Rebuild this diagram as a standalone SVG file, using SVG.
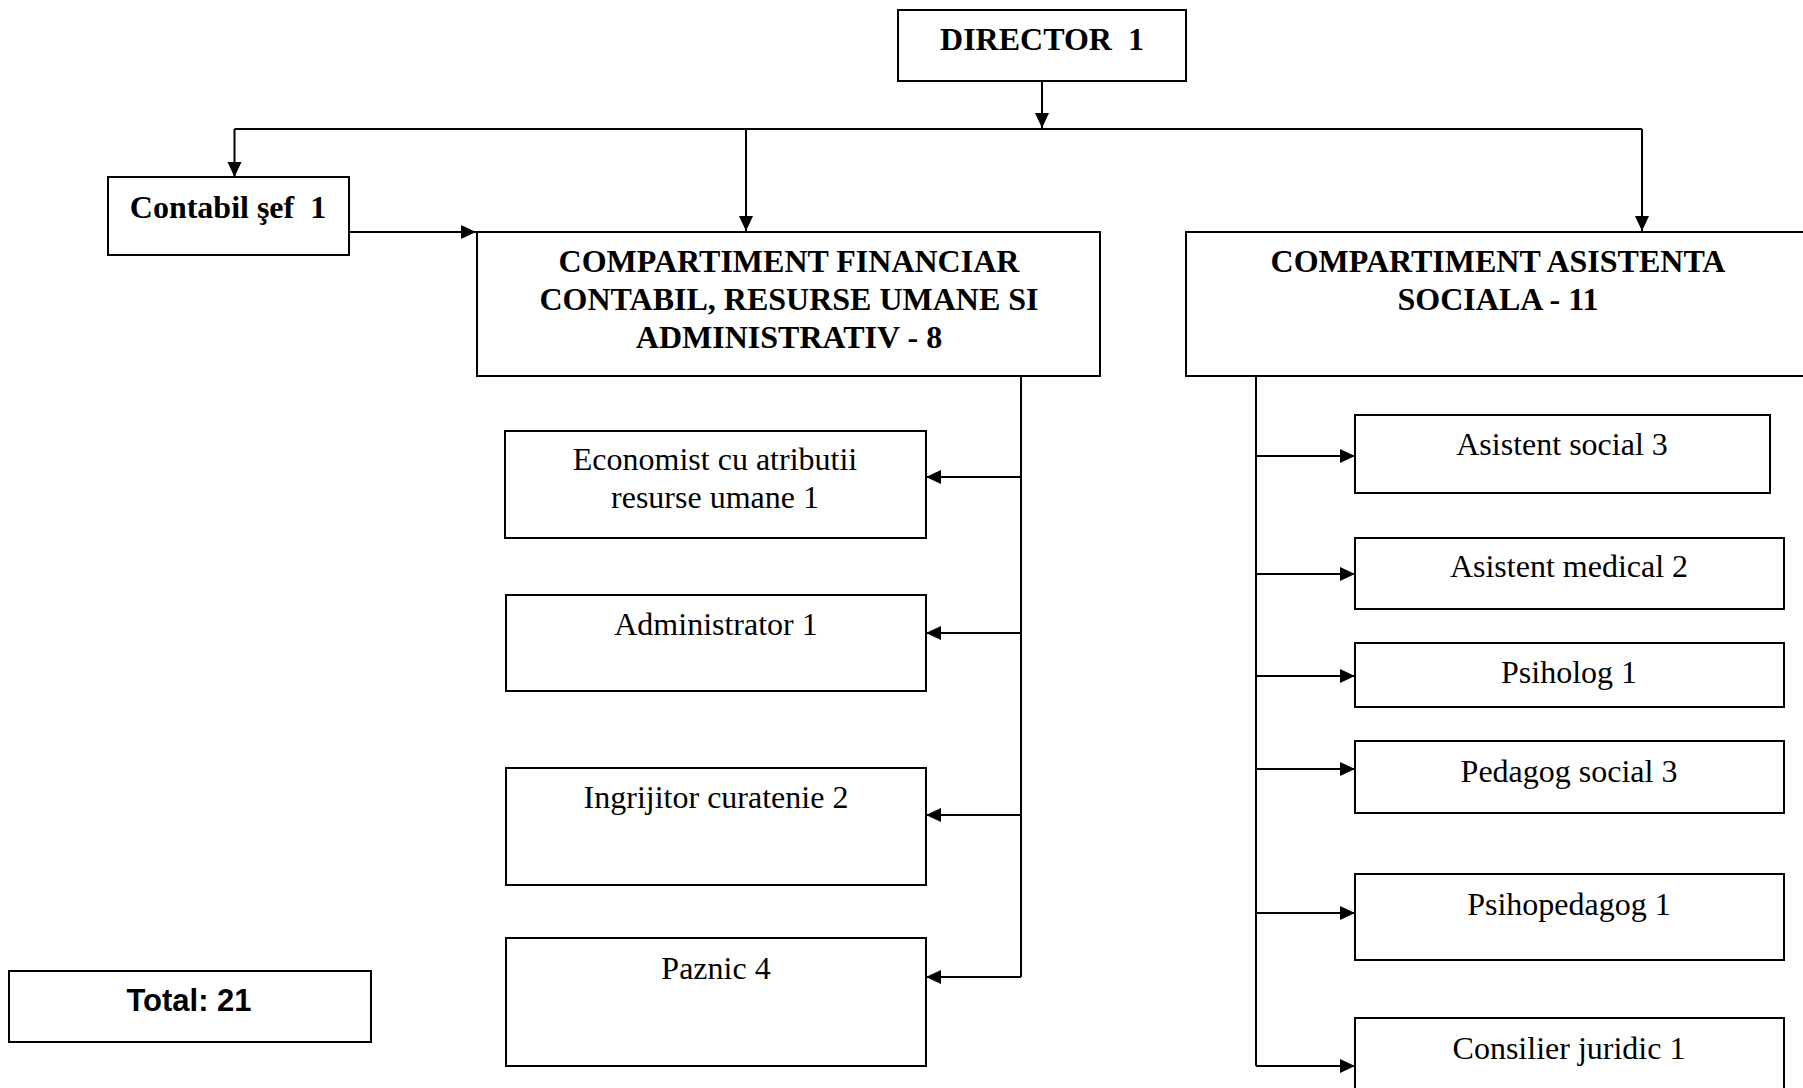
<svg xmlns="http://www.w3.org/2000/svg" width="1803" height="1088" viewBox="0 0 1803 1088">
<style>
.box{fill:#fff;stroke:#000;stroke-width:2}
.b{font-family:"Liberation Serif","Times New Roman",serif;font-weight:bold;font-size:32px;text-anchor:middle;fill:#000}
.r{font-family:"Liberation Serif","Times New Roman",serif;font-size:32px;text-anchor:middle;fill:#000}
.t{font-family:"Liberation Sans",Arial,sans-serif;font-weight:bold;font-size:31px;text-anchor:middle;fill:#000}
.c{fill:none;stroke:#000;stroke-width:2}
</style>
<defs>
<marker id="arr" markerUnits="userSpaceOnUse" markerWidth="16" markerHeight="15" refX="15" refY="7" orient="auto">
<path d="M0,0 L15,7 L0,14 z" fill="#000"/>
</marker>
</defs>
<rect width="1803" height="1088" fill="#fff"/>
<g id="connectors">
<path class="c" d="M1042,81 V128" marker-end="url(#arr)"/>
<path class="c" d="M234.5,129 H1642"/>
<path class="c" d="M234.5,129 V177" marker-end="url(#arr)"/>
<path class="c" d="M746,129 V231" marker-end="url(#arr)"/>
<path class="c" d="M1642,129 V231" marker-end="url(#arr)"/>
<path class="c" d="M348,232 H476" marker-end="url(#arr)"/>
<path class="c" d="M1021,376 V977"/>
<path class="c" d="M1021,477 H926" marker-end="url(#arr)"/>
<path class="c" d="M1021,633 H926" marker-end="url(#arr)"/>
<path class="c" d="M1021,815 H926" marker-end="url(#arr)"/>
<path class="c" d="M1021,977 H926" marker-end="url(#arr)"/>
<path class="c" d="M1256,376 V1066"/>
<path class="c" d="M1256,456 H1355" marker-end="url(#arr)"/>
<path class="c" d="M1256,574 H1355" marker-end="url(#arr)"/>
<path class="c" d="M1256,676 H1355" marker-end="url(#arr)"/>
<path class="c" d="M1256,769 H1355" marker-end="url(#arr)"/>
<path class="c" d="M1256,913 H1355" marker-end="url(#arr)"/>
<path class="c" d="M1256,1066 H1355" marker-end="url(#arr)"/>
</g>
<g id="director"><rect class="box" x="898" y="10" width="288" height="71"/><text class="b" x="1042" y="50" xml:space="preserve">DIRECTOR  1</text></g>
<g id="contabil-sef"><rect class="box" x="108" y="177" width="241" height="78"/><text class="b" x="228" y="218" xml:space="preserve">Contabil şef  1</text></g>
<g id="comp-financiar"><rect class="box" x="477" y="232" width="623" height="144"/>
<text class="b" x="789" y="272">COMPARTIMENT FINANCIAR</text>
<text class="b" x="789" y="310">CONTABIL, RESURSE UMANE SI</text>
<text class="b" x="789" y="348">ADMINISTRATIV - 8</text></g>
<g id="comp-asistenta"><rect class="box" x="1186" y="232" width="630" height="144"/>
<text class="b" x="1498" y="272">COMPARTIMENT ASISTENTA</text>
<text class="b" x="1498" y="310">SOCIALA - 11</text></g>
<g id="economist"><rect class="box" x="505" y="431" width="421" height="107"/>
<text class="r" x="715" y="470">Economist cu atributii</text>
<text class="r" x="715" y="508">resurse umane 1</text></g>
<g id="administrator"><rect class="box" x="506" y="595" width="420" height="96"/><text class="r" x="716" y="635">Administrator 1</text></g>
<g id="ingrijitor"><rect class="box" x="506" y="768" width="420" height="117"/><text class="r" x="716" y="808">Ingrijitor curatenie 2</text></g>
<g id="paznic"><rect class="box" x="506" y="938" width="420" height="128"/><text class="r" x="716" y="979">Paznic 4</text></g>
<g id="asistent-social"><rect class="box" x="1355" y="415" width="415" height="78"/><text class="r" x="1562" y="455">Asistent social 3</text></g>
<g id="asistent-medical"><rect class="box" x="1355" y="538" width="429" height="71"/><text class="r" x="1569" y="577">Asistent medical 2</text></g>
<g id="psiholog"><rect class="box" x="1355" y="643" width="429" height="64"/><text class="r" x="1569" y="683">Psiholog 1</text></g>
<g id="pedagog"><rect class="box" x="1355" y="741" width="429" height="72"/><text class="r" x="1569" y="782">Pedagog social 3</text></g>
<g id="psihopedagog"><rect class="box" x="1355" y="874" width="429" height="86"/><text class="r" x="1569" y="915">Psihopedagog 1</text></g>
<g id="consilier"><rect class="box" x="1355" y="1018" width="429" height="90"/><text class="r" x="1569" y="1059">Consilier juridic 1</text></g>
<g id="total"><rect class="box" x="9" y="971" width="362" height="71"/><text class="t" x="189" y="1011">Total: 21</text></g>
</svg>
